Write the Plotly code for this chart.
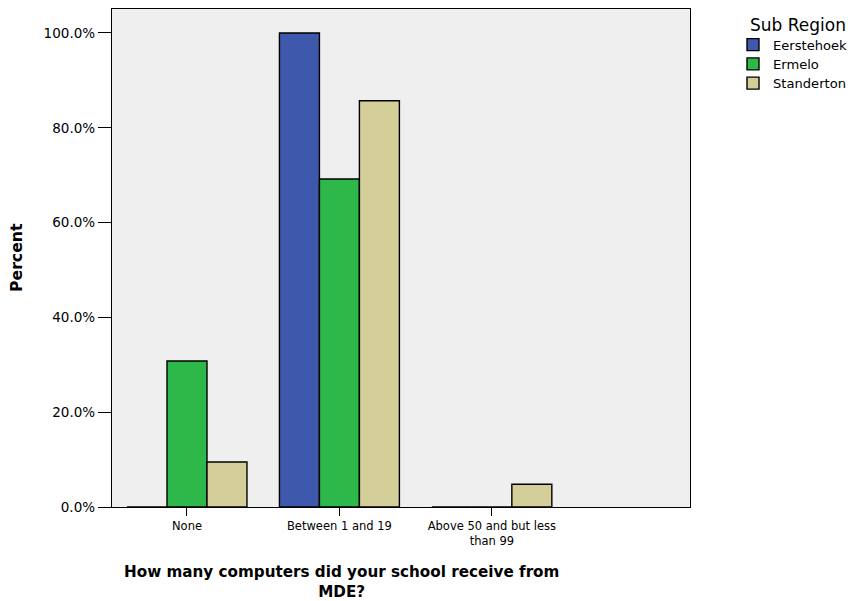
import plotly.graph_objects as go

categories = ["None", "Between 1 and 19", "Above 50 and but less<br>than 99"]
series_names = ["Eerstehoek", "Ermelo", "Standerton"]
eerstehoek = [0.0, 100.0, 0.0]
ermelo = [30.8, 69.2, 0.0]
standerton = [9.5, 85.7, 4.8]
colors = ["#3e58ac", "#2fb84a", "#d4cf99"]
y_ticks = [0, 20, 40, 60, 80, 100]
y_tick_labels = ["0.0%", "20.0%", "40.0%", "60.0%", "80.0%", "100.0%"]

FONT = "DejaVu Sans, Verdana, sans-serif"

# page has an 8px body margin; plot area in page pixels: x 112..690, y 9..507
W, H = 848, 593
L, T, PW, PH = 104, 1, 578, 498

fig = go.Figure()
for name, vals, col in zip(series_names, [eerstehoek, ermelo, standerton], colors):
    fig.add_trace(go.Bar(
        x=list(range(len(categories))), y=vals,
        name='<span style="font-size:13.1px">' + name + "</span>",
        marker=dict(color=col, line=dict(color="#000000", width=1.4)),
    ))

fig.update_layout(
    width=W, height=H,
    margin=dict(l=L, r=W - L - PW, t=T, b=H - T - PH, pad=0),
    paper_bgcolor="white", plot_bgcolor="#efefef",
    barmode="group", bargap=0.213, bargroupgap=0,
    font=dict(family=FONT, size=12, color="#000000"),
    legend=dict(
        x=(733 - 8 - L) / PW, y=1 - (30 - 9) / PH, xanchor="left", yanchor="top",
        font=dict(size=12.5), tracegroupgap=0,
        bgcolor="rgba(0,0,0,0)", borderwidth=0,
    ),
    xaxis=dict(
        range=[-0.492, 3.30], tickmode="array",
        tickvals=list(range(len(categories))), ticktext=categories,
        ticks="outside", ticklen=8, tickwidth=1.4, tickcolor="#000",
        showline=True, linecolor="#000", linewidth=1.4, mirror=True,
        showgrid=False, zeroline=False, tickfont=dict(size=11.5),
    ),
    yaxis=dict(
        range=[0, 105.06], tickmode="array", tickvals=y_ticks, ticktext=y_tick_labels,
        ticks="outside", ticklen=13, tickwidth=1.4, tickcolor="#000",
        showline=True, linecolor="#000", linewidth=1.4, mirror=True,
        showgrid=False, zeroline=False, tickfont=dict(size=13.5),
    ),
    showlegend=True,
)

fig.add_annotation(
    text="Sub Region",
    xref="paper", yref="paper", x=(748 - 8 - L) / PW, y=1 - (37 - 9) / PH,
    xanchor="left", yanchor="bottom", showarrow=False,
    font=dict(size=17, family=FONT),
)
fig.add_annotation(
    text="<b>How many computers did your school receive from<br>MDE?</b>",
    xref="paper", yref="paper", x=(341 - 112) / PW, y=-(561 - 507) / PH,
    xanchor="center", yanchor="top", showarrow=False,
    font=dict(size=15.2, family=FONT),
)
fig.add_annotation(
    text="<b>Percent</b>", textangle=-90,
    xref="paper", yref="paper", x=(16 - 112) / PW, y=(507 - 258) / PH,
    xanchor="center", yanchor="middle", showarrow=False,
    font=dict(size=15.7, family=FONT),
)

fig.write_html("out.html")
